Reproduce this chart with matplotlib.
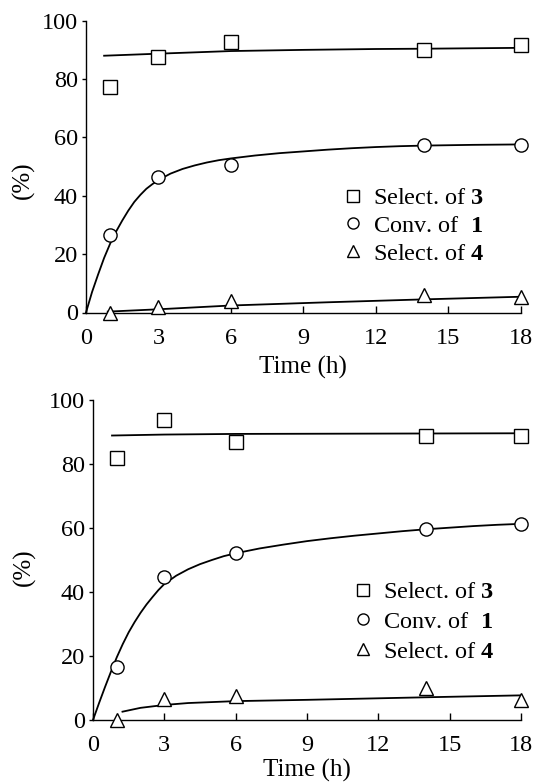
import matplotlib
matplotlib.use("Agg")
import matplotlib.pyplot as plt
from matplotlib.lines import Line2D

plt.rcParams['font.family'] = ['Liberation Serif', 'DejaVu Serif']
plt.rcParams['mathtext.fontset'] = 'custom'
plt.rcParams['mathtext.rm'] = 'Liberation Serif'
plt.rcParams['mathtext.bf'] = 'Liberation Serif:bold'

# ---- data ----
time = [1, 3, 6, 14, 18]
x_ticks = [0, 3, 6, 9, 12, 15, 18]
y_ticks = [0, 20, 40, 60, 80, 100]
legend_labels = [r"Select. of $\mathbf{3}$", r"Conv. of  $\mathbf{1}$", r"Select. of $\mathbf{4}$"]

# top panel measured points
top_sel3 = [77.4, 87.6, 92.6, 89.8, 91.7]
top_conv1 = [26.5, 46.4, 50.5, 57.4, 57.5]
top_sel4 = [0.0, 2.0, 4.0, 5.9, 5.3]
# top panel fitted curves
top_fit_sel3_t = [0.75, 3, 6, 9, 12, 14, 18]
top_fit_sel3_v = [88.0, 88.7, 89.6, 90.0, 90.3, 90.4, 90.7]
top_fit_conv1_t = [0, 0.25, 0.5, 0.75, 1, 1.25, 1.5, 1.75, 2, 2.25, 2.5, 2.75, 3, 3.5, 4, 4.5, 5,
                   5.5, 6, 7, 8, 9, 10, 11, 12, 13, 14, 16, 18]
top_fit_conv1_v = [0, 7.0, 13.0, 18.7, 23.6, 27.8, 31.5, 34.9, 37.9, 40.3, 42.4, 44.0, 45.4, 47.6,
                   49.2, 50.4, 51.4, 52.2, 52.8, 53.8, 54.6, 55.2, 55.8, 56.3, 56.7, 57.0, 57.2,
                   57.45, 57.6]
top_fit_sel4_t = [0.9, 3, 6, 10, 14, 18]
top_fit_sel4_v = [0.3, 1.1, 2.4, 3.5, 4.5, 5.4]

# bottom panel measured points
bot_sel3 = [81.9, 93.6, 86.8, 88.6, 88.8]
bot_conv1 = [16.6, 44.6, 52.3, 59.8, 61.3]
bot_sel4 = [0.0, 6.7, 7.5, 9.9, 6.3]
# bottom panel fitted curves
bot_fit_sel3_t = [0.8, 3, 6, 12, 18]
bot_fit_sel3_v = [88.9, 89.2, 89.4, 89.5, 89.6]
bot_fit_conv1_t = [0, 0.25, 0.5, 0.75, 1, 1.25, 1.5, 1.75, 2, 2.25, 2.5, 2.75, 3, 3.5, 4, 4.5, 5,
                   5.5, 6, 7, 8, 9, 10, 11, 12, 13, 14, 15, 16, 17, 18]
bot_fit_conv1_v = [0, 5.2, 10.2, 15.0, 19.6, 23.7, 27.4, 30.6, 33.5, 36.1, 38.4, 40.6, 42.5, 45.1,
                   47.1, 48.7, 50.0, 51.2, 52.1, 53.6, 54.8, 55.9, 56.8, 57.6, 58.3, 59.0, 59.6,
                   60.1, 60.6, 61.0, 61.3]
bot_fit_sel4_t = [1.24, 2, 3, 4, 6, 9, 14, 18]
bot_fit_sel4_v = [2.6, 3.8, 4.7, 5.3, 5.9, 6.3, 7.1, 7.7]

W, H = 534, 784
fig = plt.figure(figsize=(W / 100, H / 100), dpi=100)


def px_axes(left, top, right, bottom):
    return fig.add_axes([left / W, 1 - bottom / H, (right - left) / W, (bottom - top) / H])


def draw_panel(ax, sel3, conv1, sel4, f3t, f3v, f1t, f1v, f4t, f4v, ylab_xy, leg_anchor, lspace,
               xlabpad):
    kw = dict(linestyle='none', markerfacecolor='white', markeredgecolor='black',
              markeredgewidth=1.0, markersize=9.5, clip_on=False, zorder=3)
    ax.plot(f3t, f3v, color='black', lw=1.3, clip_on=False)
    ax.plot(f1t, f1v, color='black', lw=1.3, clip_on=False)
    ax.plot(f4t, f4v, color='black', lw=1.3, clip_on=False)
    ax.plot(time, sel3, marker='s', **kw)
    ax.plot(time, conv1, marker='o', **kw)
    ax.plot(time, sel4, marker='^', **kw)

    ax.set_xlim(0, 18)
    ax.set_ylim(0, 100)
    ax.set_xticks(x_ticks)
    ax.set_yticks(y_ticks)
    for s in ['top', 'right']:
        ax.spines[s].set_visible(False)
    for s in ['left', 'bottom']:
        ax.spines[s].set_linewidth(1.0)
    ax.tick_params(axis='x', direction='in', length=5, width=1.0, pad=11, labelsize=17.5)
    ax.tick_params(axis='y', direction='out', length=3, width=1.0, pad=3, labelsize=17.5)
    ax.set_xlabel('Time (h)', fontsize=18, labelpad=xlabpad)
    ax.set_ylabel('(%)', fontsize=18)
    ax.yaxis.set_label_coords(*ylab_xy)

    handles = [Line2D([], [], marker=m, linestyle='none', markerfacecolor='white',
                      markeredgecolor='black', markeredgewidth=1.0, markersize=8)
               for m in ['s', 'o', '^']]
    ax.legend(handles, legend_labels, loc='upper left', bbox_to_anchor=leg_anchor,
              frameon=False, fontsize=17.5, handlelength=0.6, handletextpad=0.5,
              labelspacing=lspace, borderpad=0, borderaxespad=0)


ax1 = px_axes(86, 20.7, 520.7, 312.5)
draw_panel(ax1, top_sel3, top_conv1, top_sel4,
           top_fit_sel3_t, top_fit_sel3_v, top_fit_conv1_t, top_fit_conv1_v,
           top_fit_sel4_t, top_fit_sel4_v,
           (-0.117, 0.454), ((346 - 86) / 434.7, (312.5 - 187) / 291.8), 0.24, 5)

ax2 = px_axes(93, 400, 521, 720)
draw_panel(ax2, bot_sel3, bot_conv1, bot_sel4,
           bot_fit_sel3_t, bot_fit_sel3_v, bot_fit_conv1_t, bot_fit_conv1_v,
           bot_fit_sel4_t, bot_fit_sel4_v,
           (-0.134, 0.478), ((356 - 93) / 428, (720 - 581) / 320), 0.32, 2)

fig.savefig('out.png', dpi=100)
